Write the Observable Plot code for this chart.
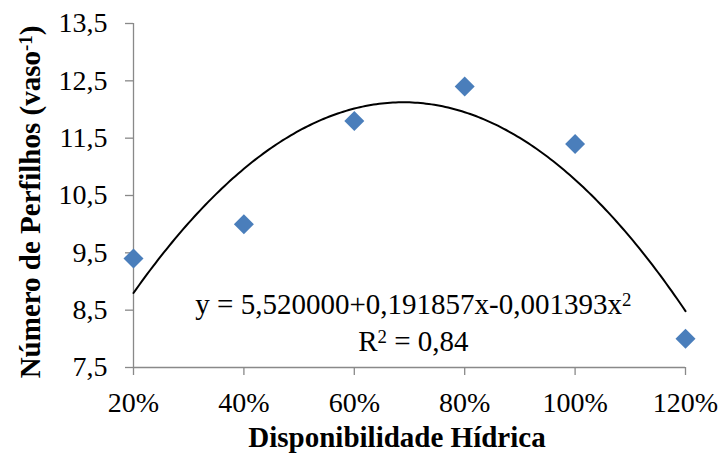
<!DOCTYPE html>
<html>
<head>
<meta charset="utf-8">
<script src="https://cdn.jsdelivr.net/npm/d3@7"></script>
<script src="https://cdn.jsdelivr.net/npm/@observablehq/plot@0.6"></script>
<style>
  html, body { margin: 0; padding: 0; background: #fff; }
  svg { display: block; }
  #chart svg, #chart svg text, #chart svg tspan { font-family: "Liberation Serif", "Times New Roman", serif !important; }
</style>
</head>
<body>
<div id="chart"></div>
<script>
// Data
const categories = [20, 40, 60, 80, 100, 120];           // Disponibilidade Hídrica (%)
const perfilhos  = [9.4, 10.0, 11.8, 12.4, 11.4, 8.0];   // Número de Perfilhos (vaso-1)
const yTicks     = [7.5, 8.5, 9.5, 10.5, 11.5, 12.5, 13.5];
const coef       = [5.520000, 0.191857, -0.001393];      // fitted polynomial shown on chart
const r2Label    = "0,84";

const points = categories.map((c, i) => ({x: c, y: perfilhos[i]}));
const curve = d3.range(20, 120.01, 0.5).map(x => ({x, y: coef[0] + coef[1] * x + coef[2] * x * x}));

const fmtComma = d => d.toFixed(1).replace(".", ",");
const fmt6 = v => Math.abs(v).toFixed(6).replace(".", ",");
const eqText = "y = " + fmt6(coef[0]) + (coef[1] < 0 ? "-" : "+") + fmt6(coef[1]) + "x" +
               (coef[2] < 0 ? "-" : "+") + fmt6(coef[2]) + "x";
const axisGrey = "#898989";
const FONT = "Liberation Serif";

const plot = Plot.plot({
  width: 718,
  height: 455,
  marginLeft: 133,
  marginRight: 33,
  marginTop: 23,
  marginBottom: 88,
  style: {fontFamily: FONT, fontSize: "28px", color: "#000", background: "#fff"},
  x: {type: "linear", domain: [20, 120]},
  y: {domain: [7.5, 13.5]},
  marks: [
    Plot.ruleX([20], {stroke: axisGrey, strokeWidth: 1.3}),
    Plot.ruleY([7.5], {stroke: axisGrey, strokeWidth: 1.3}),
    Plot.axisY({ticks: yTicks, tickFormat: fmtComma, tickSize: 8, tickPadding: 18,
                stroke: axisGrey, fill: "#000", fontSize: 28, label: null, strokeWidth: 1.3}),
    Plot.axisX({ticks: categories, tickFormat: d => d + "%", tickSize: 8, tickPadding: 17,
                stroke: axisGrey, fill: "#000", fontSize: 28, label: null, strokeWidth: 1.3}),
    Plot.line(curve, {x: "x", y: "y", stroke: "#000", strokeWidth: 2}),
    Plot.dot(points, {x: "x", y: "y", symbol: "diamond2", r: 9, fill: "#4A7EBB", stroke: "none"}),
    Plot.text([eqText], {x: () => 70.7, y: () => 8.60, text: d => d, fontSize: 29, fill: "#000", className: "eq1"}),
    Plot.text([r2Label], {x: () => 70.7, y: () => 7.95, text: d => "R2 = " + d, fontSize: 29, fill: "#000", className: "eq2"})
  ]
});

const svg = d3.select(plot);

// Equation line 1 with superscript
const t1 = svg.select("g.eq1 text");
t1.text(null);
t1.append("tspan").text(eqText);
t1.append("tspan").attr("dy", "-0.4em").attr("font-size", "0.65em").text("2");

const t2 = svg.select("g.eq2 text");
t2.text(null);
t2.append("tspan").text("R");
t2.append("tspan").attr("dy", "-0.4em").attr("font-size", "0.65em").text("2");
t2.append("tspan").attr("dy", "0.26em").text(" = " + r2Label);

// Axis titles
svg.append("text")
  .attr("x", 397).attr("y", 447)
  .attr("text-anchor", "middle")
  .attr("font-weight", "bold").attr("font-size", 29)
  .attr("fill", "#000")
  .text("Disponibilidade Hídrica");

const yt = svg.append("text")
  .attr("transform", "translate(40,202) rotate(-90)")
  .attr("text-anchor", "middle")
  .attr("font-weight", "bold").attr("font-size", 29)
  .attr("fill", "#000");
yt.append("tspan").text("Número de Perfilhos (vaso");
yt.append("tspan").attr("dy", "-0.4em").attr("font-size", "0.65em").text("-1");
yt.append("tspan").attr("dy", "0.26em").text(")");

document.getElementById("chart").appendChild(plot);
</script>
</body>
</html>
